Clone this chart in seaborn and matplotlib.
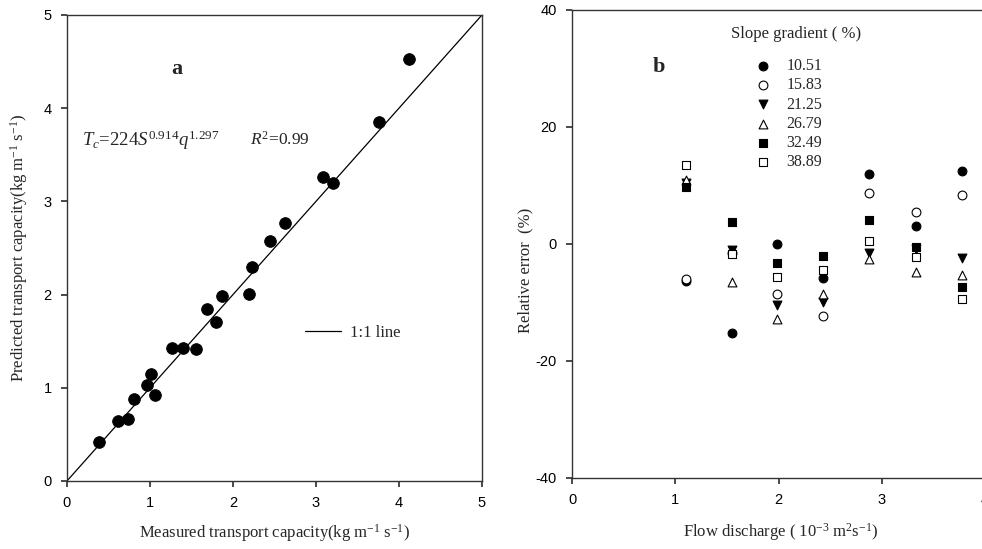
import numpy as np
import pandas as pd
import matplotlib
matplotlib.use("Agg")
import matplotlib.pyplot as plt
import seaborn as sns
from matplotlib.lines import Line2D

# panel a: measured vs predicted transport capacity (kg m-1 s-1)
measured = [0.39, 0.62, 0.74, 0.81, 0.96, 1.01, 1.06, 1.26, 1.40, 1.55, 1.69,
            1.80, 1.87, 2.19, 2.23, 2.45, 2.63, 3.08, 3.20, 3.76, 4.12]
predicted = [0.42, 0.64, 0.67, 0.88, 1.03, 1.15, 0.92, 1.43, 1.43, 1.42, 1.85,
             1.71, 1.98, 2.01, 2.30, 2.57, 2.77, 3.26, 3.20, 3.85, 4.53]

# panel b: relative error (%) by flow discharge and slope gradient
discharge = [1.10, 1.55, 1.99, 2.43, 2.88, 3.33, 3.78]
slopes = ["10.51", "15.83", "21.25", "26.79", "32.49", "38.89"]
err_1051 = [-6.3, -15.3, 0.0, -5.8, 11.9, 3.0, 12.4]
err_1583 = [-6.0, -1.5, -8.5, -12.3, 8.7, 5.4, 8.3]
err_2125 = [10.4, -1.1, -10.5, -10.0, -1.5, -0.8, -2.4]
err_2679 = [11.0, -6.5, -12.8, -8.6, -2.6, -4.9, -5.4]
err_3249 = [9.7, 3.7, -3.3, -2.0, 4.1, -0.6, -7.4]
err_3889 = [13.4, -1.8, -5.7, -4.4, 0.4, -2.2, -9.5]
errors = [err_1051, err_1583, err_2125, err_2679, err_3249, err_3889]
markers = ["o", "o", "v", "^", "s", "s"]
faces = ["black", "white", "black", "white", "black", "white"]

sns.set_theme(style="ticks")
plt.rcParams['font.family'] = ['Liberation Serif', 'DejaVu Serif']
plt.rcParams['mathtext.fontset'] = 'custom'
plt.rcParams['mathtext.rm'] = 'Liberation Serif'
plt.rcParams['mathtext.it'] = 'Liberation Serif:italic'
plt.rcParams['axes.unicode_minus'] = False
plt.rcParams['axes.edgecolor'] = '#333333'
plt.rcParams['axes.linewidth'] = 1.0
plt.rcParams['xtick.major.size'] = 4
plt.rcParams['ytick.major.size'] = 4

fig = plt.figure(figsize=(9.82, 5.49), dpi=100)
ax1 = fig.add_axes([0.0682, 0.1239, 0.4226, 0.8488])
ax2 = fig.add_axes([0.5825, 0.1299, 0.4206, 0.8519])

tick_font = dict(family=['Liberation Sans', 'DejaVu Sans'], size=10.5)

# ---- panel a
ax1.plot([0, 5], [0, 5], color='black', lw=0.9)
sns.scatterplot(x=measured, y=predicted, color='black', edgecolor='black',
                s=70, ax=ax1, zorder=3)
ax1.set_xlim(0, 5)
ax1.set_ylim(0, 5)
ax1.set_xticks(range(6))
ax1.set_yticks(range(6))
for lab in ax1.get_xticklabels() + ax1.get_yticklabels():
    lab.set_fontproperties(tick_font)
ax1.tick_params(colors='#333333', labelcolor='black', pad=7)
ax1.set_xlabel('Measured transport capacity(kg m$^{-1}$ s$^{-1}$)', fontsize=12)
ax1.set_ylabel('Predicted transport capacity(kg m$^{-1}$ s$^{-1}$)', fontsize=12)
ax1.xaxis.set_label_coords(0.5, -0.088)
ax1.yaxis.set_label_coords(-0.088, 0.5)
ax1.text(0.265, 0.885, 'a', transform=ax1.transAxes, fontsize=16,
         fontweight='bold', ha='center', va='center')
ax1.text(0.036, 0.732, r'$T_c$=224$S^{0.914}q^{1.297}$', transform=ax1.transAxes,
         fontsize=13.5, ha='left', va='center')
ax1.text(0.44, 0.732, r'$R^2$=0.99', transform=ax1.transAxes,
         fontsize=12.5, ha='left', va='center')
ax1.legend(handles=[Line2D([], [], color='black', lw=0.9)], labels=['1:1 line'],
           frameon=False, loc='center left', bbox_to_anchor=(0.573, 0.318),
           borderaxespad=0, borderpad=0, handlelength=2.2, handletextpad=0.5,
           fontsize=12)

# ---- panel b
for slope, err, mk, fc in zip(slopes, errors, markers, faces):
    sns.scatterplot(x=discharge, y=err, marker=mk, color=fc, edgecolor='black',
                    linewidth=0.8, s=40, label=slope, ax=ax2, zorder=3)
ax2.set_xlim(0, 4)
ax2.set_ylim(-40, 40)
ax2.set_xticks([0, 1, 2, 3, 4])
ax2.set_yticks([-40, -20, 0, 20, 40])
for lab in ax2.get_xticklabels() + ax2.get_yticklabels():
    lab.set_fontproperties(tick_font)
ax2.tick_params(colors='#333333', labelcolor='black', pad=7)
ax2.set_xlabel('Flow discharge ( 10$^{-3}$ m$^{2}$s$^{-1}$)', fontsize=12)
ax2.set_ylabel('Relative error  (%)', fontsize=12)
ax2.xaxis.set_label_coords(0.504, -0.093)
ax2.yaxis.set_label_coords(-0.094, 0.444)
ax2.text(0.211, 0.878, 'b', transform=ax2.transAxes, fontsize=16,
         fontweight='bold', ha='center', va='center')
ax2.text(0.542, 0.949, 'Slope gradient ( %)', transform=ax2.transAxes,
         fontsize=12, ha='center', va='center')
ax2.legend(frameon=False, loc='upper left',
           bbox_to_anchor=(0.442, 0.897), borderaxespad=0, borderpad=0,
           handlelength=1.0, handletextpad=1.0, labelspacing=0.2,
           fontsize=11.5)

fig.savefig('out.png', dpi=100)
